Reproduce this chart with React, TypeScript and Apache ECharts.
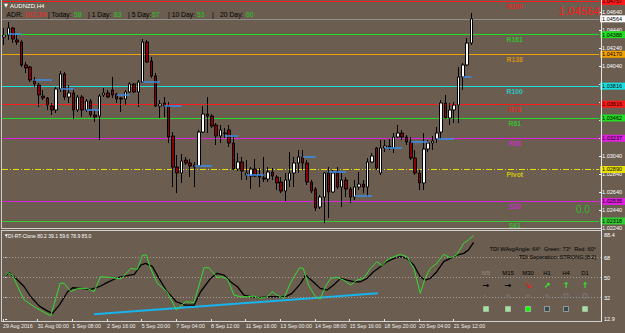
import React, { useEffect, useRef } from "react";
import * as echarts from "echarts";

const BG = "#6b5d4f";
const FONT = '"Liberation Sans", Arial, sans-serif';
const N_SLOTS = 138;

// OHLC as [open, close, low, high]
const CANDLES: number[][] = [
  [1.04362, 1.04384, 1.04273, 1.04462],
  [1.04384, 1.04462, 1.04329, 1.04529],
  [1.04462, 1.0434, 1.04295, 1.04473],
  [1.04329, 1.04306, 1.04273, 1.04384],
  [1.04306, 1.04051, 1.04029, 1.04329],
  [1.04051, 1.04018, 1.03962, 1.04084],
  [1.04029, 1.03884, 1.03862, 1.0404],
  [1.03873, 1.0384, 1.03806, 1.03918],
  [1.03829, 1.03718, 1.03584, 1.03851],
  [1.03706, 1.03684, 1.03662, 1.03773],
  [1.03684, 1.03606, 1.03551, 1.03695],
  [1.03595, 1.03551, 1.03495, 1.03629],
  [1.03551, 1.03784, 1.03518, 1.03806],
  [1.03784, 1.03951, 1.03751, 1.03984],
  [1.03951, 1.03695, 1.03662, 1.03973],
  [1.03695, 1.0374, 1.03629, 1.03829],
  [1.0374, 1.03551, 1.03451, 1.03773],
  [1.03551, 1.03695, 1.03529, 1.03718],
  [1.03695, 1.03551, 1.03473, 1.03718],
  [1.03551, 1.03651, 1.03529, 1.03673],
  [1.03651, 1.03495, 1.03473, 1.03673],
  [1.03495, 1.03473, 1.03418, 1.03551],
  [1.03484, 1.03706, 1.03217, 1.03729],
  [1.03718, 1.0374, 1.03695, 1.03795],
  [1.0374, 1.03695, 1.03684, 1.03773],
  [1.03773, 1.03718, 1.03684, 1.03918],
  [1.03729, 1.03673, 1.03629, 1.0374],
  [1.03684, 1.03673, 1.03529, 1.03695],
  [1.03673, 1.03751, 1.03606, 1.03773],
  [1.03751, 1.0384, 1.0374, 1.03862],
  [1.0384, 1.03751, 1.0374, 1.03851],
  [1.03751, 1.03862, 1.03584, 1.03884],
  [1.03862, 1.04306, 1.03851, 1.0434],
  [1.04306, 1.04084, 1.04073, 1.04329],
  [1.04095, 1.03929, 1.03907, 1.0414],
  [1.03929, 1.03595, 1.03584, 1.03962],
  [1.03595, 1.03618, 1.03462, 1.03662],
  [1.03629, 1.03595, 1.03473, 1.03695],
  [1.03595, 1.03251, 1.03184, 1.0364],
  [1.03262, 1.02917, 1.02695, 1.03306],
  [1.02917, 1.02851, 1.02628, 1.03051],
  [1.02851, 1.02984, 1.0274, 1.03062],
  [1.02995, 1.02962, 1.0294, 1.03029],
  [1.02962, 1.02929, 1.02806, 1.03006],
  [1.0294, 1.02917, 1.02695, 1.02973],
  [1.02929, 1.03306, 1.02917, 1.03329],
  [1.03306, 1.03506, 1.03295, 1.03595],
  [1.03506, 1.03484, 1.03295, 1.03695],
  [1.03484, 1.03373, 1.03351, 1.03506],
  [1.03384, 1.03262, 1.03162, 1.03406],
  [1.03262, 1.03329, 1.03184, 1.03384],
  [1.03295, 1.0329, 1.0324, 1.03351],
  [1.03329, 1.03184, 1.0314, 1.03384],
  [1.03184, 1.02895, 1.02884, 1.03273],
  [1.02895, 1.02973, 1.02873, 1.03073],
  [1.02973, 1.02873, 1.02773, 1.03029],
  [1.02829, 1.02851, 1.02773, 1.02995],
  [1.02817, 1.02895, 1.02673, 1.02917],
  [1.02895, 1.02817, 1.02806, 1.03006],
  [1.02829, 1.02806, 1.02695, 1.02906],
  [1.02795, 1.02784, 1.02751, 1.03029],
  [1.02784, 1.02862, 1.02751, 1.02917],
  [1.02862, 1.02817, 1.02773, 1.02906],
  [1.02806, 1.0274, 1.02662, 1.02829],
  [1.02751, 1.02651, 1.02628, 1.02806],
  [1.02651, 1.02773, 1.0254, 1.02851],
  [1.02773, 1.02851, 1.02695, 1.03084],
  [1.02851, 1.02962, 1.02695, 1.03029],
  [1.02962, 1.03029, 1.02851, 1.03106],
  [1.03029, 1.02962, 1.02884, 1.03106],
  [1.02962, 1.02751, 1.02717, 1.02995],
  [1.02751, 1.02651, 1.02628, 1.02773],
  [1.02673, 1.02462, 1.02429, 1.02695],
  [1.02473, 1.02584, 1.02451, 1.02606],
  [1.02584, 1.02851, 1.02295, 1.02862],
  [1.02851, 1.0264, 1.02351, 1.02917],
  [1.0264, 1.02851, 1.02628, 1.02884],
  [1.02862, 1.02695, 1.02673, 1.02917],
  [1.02695, 1.02773, 1.02473, 1.02851],
  [1.02773, 1.02673, 1.02584, 1.02806],
  [1.02673, 1.02584, 1.02518, 1.02695],
  [1.02584, 1.02695, 1.02551, 1.02773],
  [1.02695, 1.02728, 1.02662, 1.02862],
  [1.02728, 1.02695, 1.02628, 1.02773],
  [1.02695, 1.02973, 1.02584, 1.03017],
  [1.02973, 1.0304, 1.02962, 1.03073],
  [1.03129, 1.02906, 1.02884, 1.0314],
  [1.02851, 1.03129, 1.02829, 1.03217],
  [1.03129, 1.03151, 1.03084, 1.03217],
  [1.03151, 1.03129, 1.03106, 1.03229],
  [1.03129, 1.03251, 1.03073, 1.03295],
  [1.03251, 1.03295, 1.0324, 1.03384],
  [1.03295, 1.03251, 1.03217, 1.03329],
  [1.03251, 1.03195, 1.03162, 1.03273],
  [1.03195, 1.03017, 1.02995, 1.03251],
  [1.03017, 1.02851, 1.02829, 1.03106],
  [1.02851, 1.0274, 1.02662, 1.02884],
  [1.0274, 1.03117, 1.02662, 1.03295],
  [1.03117, 1.03184, 1.03084, 1.03217],
  [1.03184, 1.03206, 1.03106, 1.03262],
  [1.03229, 1.03295, 1.03184, 1.03362],
  [1.03306, 1.03629, 1.03229, 1.03662],
  [1.03629, 1.03462, 1.03462, 1.03718],
  [1.03462, 1.03551, 1.03384, 1.03629],
  [1.03551, 1.03606, 1.03406, 1.0364],
  [1.03606, 1.03918, 1.03406, 1.04029],
  [1.03918, 1.04051, 1.03773, 1.04073],
  [1.04051, 1.04295, 1.0404, 1.04351],
  [1.04295, 1.04564, 1.04273, 1.04629],
];

const CATEGORIES = Array.from({ length: N_SLOTS }, (_, i) => String(i));

const PRICE_TICKS = [1.0224, 1.0244, 1.0264, 1.0284, 1.0304, 1.0324, 1.0344, 1.0364, 1.0384, 1.0404, 1.0424, 1.0444, 1.0464];
// tick labels that the level price boxes leave visible
const PRICE_LABELS = [1.0224, 1.0244, 1.0264, 1.0284, 1.0304, 1.0404, 1.0424, 1.0444, 1.0464];

const LEVEL_NAMES = ["R200", "R161", "R138", "R100", "R78", "R61", "R38", "Pivot", "S38", "S61"];
const LEVEL_VALUES = [1.04757, 1.04388, 1.0417, 1.03816, 1.03616, 1.03462, 1.03237, 1.0289, 1.02535, 1.02318];
const LEVEL_COLORS = ["#ff1a1a", "#22dd22", "#f0a000", "#18e0e0", "#ff1a1a", "#22dd22", "#e020e0", "#e8e000", "#e020e0", "#33cc33"];
const CURRENT_PRICE = 1.04564;
const LABEL_SLOT = 118;

// blue segments: [from slot, to slot, price]
const SEGMENTS = [
  [1, 4, 1.04395], [7, 11, 1.03884], [13, 16, 1.03784], [19, 22, 1.03551], [26, 29, 1.03718],
  [32, 36, 1.03862], [37, 41, 1.03595], [44, 48, 1.02929], [51, 54, 1.03262], [56, 60, 1.02829],
  [69, 72, 1.03029], [75, 79, 1.02862], [81, 85, 1.02595], [88, 92, 1.03129], [94, 98, 1.03195],
  [100, 104, 1.03229], [106, 108, 1.03918],
];

const TIME_LABELS = ["29 Aug 2016", "31 Aug 00:00", "1 Sep 08:00", "2 Sep 16:00", "5 Sep 20:00", "7 Sep 04:00", "8 Sep 12:00", "11 Sep 16:00", "13 Sep 00:00", "14 Sep 08:00", "15 Sep 16:00", "18 Sep 20:00", "20 Sep 04:00", "21 Sep 12:00"];
const TIME_TICKS = TIME_LABELS.map((_, k) => k * 8 - 0.5);

const TDI_TICKS = [12.9, 32, 50, 68, 88.4];
const TDI_LEVELS = [32, 50, 68];

const GREEN_LINE = [
  [0, 51.8], [0.6, 54.5], [1.7, 52.4], [2.9, 41.9], [4.4, 30], [6.7, 24], [9, 18.8], [10.5, 15.8], [12.7, 45], [13.6, 45],
  [15.2, 37.4], [16.7, 40.4], [19, 40.4], [20.5, 37.4], [22, 50.9], [24.3, 50.3], [26.7, 48.8], [29, 58.4], [30.5, 57.5],
  [31.7, 70.4], [32.6, 70.4], [33.4, 59.9], [35.1, 45], [37.4, 37.4], [39.5, 21], [41.6, 28.4], [43.6, 27.8], [45.9, 59],
  [47, 59], [49, 50], [50, 50.9], [51.3, 48.8], [52.8, 34.4], [54.3, 32.9], [55.9, 32.9], [57.4, 33.5], [58.9, 31.4],
  [60.5, 32.9], [61.6, 37.4], [62.8, 34.4], [64.3, 31.4], [65.8, 44.9], [67.9, 59], [68.8, 58.4], [70, 43.4], [71.6, 32.9],
  [72.7, 30.8], [73.9, 41.9], [75.1, 49.4], [76.6, 50.3], [78.1, 47.9], [79.7, 43.4], [81.2, 47.9], [82.7, 49.4], [84.3, 58.4],
  [85.8, 64.4], [87, 60.8], [88.1, 65.9], [89.7, 68.9], [91.2, 71], [92.7, 68.9], [94.3, 58.4], [95.8, 35.9], [96.9, 49.4],
  [98.1, 58.4], [99.6, 62.9], [101.2, 71], [102.7, 68], [104.2, 70.4], [105.8, 80.9], [106.9, 83.9], [108.1, 87.8],
];

const BLACK_LINE = [
  [0, 51.8], [0.9, 54.5], [2.5, 49.4], [4.4, 41.9], [5.9, 32.9], [7.9, 24.5], [9.8, 20], [10.9, 17.9], [12.5, 25.4], [14.4, 37.4],
  [15.6, 41], [17.5, 40.4], [19.8, 39.5], [21.7, 41.9], [23.6, 45.8], [25.9, 50], [28.2, 51.8], [29.8, 53], [31.3, 61.4],
  [32.4, 62.9], [34, 59.9], [35.5, 49.4], [37.4, 37.4], [39.5, 28.4], [41.6, 25.4], [43.6, 25.4], [45.1, 37.4], [47.4, 49.4],
  [48.9, 53.9], [50.5, 52.4], [52, 46.4], [53.6, 41.9], [55.1, 34.4], [56.6, 32.9], [58.9, 32], [60.5, 32.9], [62.8, 32.9],
  [64.7, 32.9], [66.2, 35.9], [68.2, 44.9], [69.3, 52.4], [71.2, 46], [72.7, 40.4], [74.3, 38.9], [75.8, 43.4], [77.4, 49.4],
  [78.9, 47.9], [80.4, 46.4], [82, 46.4], [83.5, 49.4], [85, 55.4], [86.6, 59.9], [88.1, 64.4], [89.7, 67.4], [91.2, 68.9],
  [92.7, 67.4], [94.3, 61.4], [95.8, 50.9], [96.9, 47.9], [98.1, 49.4], [99.6, 55.4], [101.2, 64.4], [102.7, 67.4],
  [104.2, 70.4], [105.8, 71.9], [106.9, 74.9], [108.1, 81.8],
];

const TREND_LINE = [[20.5, 17.1], [86, 36]];

const ADR_PARTS = [
  ["ADR:", "#000000"], ["102.3%", "#ff2020"], ["| Today:", "#000000"], ["58", "#22cc22"],
  ["| 1 Day:", "#000000"], ["83", "#22cc22"], ["| 5 Day:", "#000000"], ["57", "#22cc22"],
  ["| 10 Day:", "#000000"], ["53", "#22cc22"], ["|", "#000000"], ["20 Day:", "#000000"], ["60", "#22cc22"],
];
const ADR_X = [6.5, 24, 48, 74, 88, 114, 128, 152, 168, 197, 212, 220, 246];

const TF_NAMES = ["M5", "M15", "M30", "H1", "H4", "D1"];
const TF_X = [486, 508, 528, 547, 566, 585];
const TF_NAME_COLORS = ["#9a9080", "#000000", "#000000", "#000000", "#000000", "#000000"];
const TF_ARROWS = ["→", "→", "↘", "↗", "↑", "↑"];
const TF_ARROW_COLORS = ["#000000", "#000000", "#ff1010", "#33ee33", "#33ee33", "#33ee33"];
const TF_DOTS = ["small", "fill", "fill", "fill", "ring", "ring"];
const TF_SQUARES = ["#98e898", "#98e898", "#00ff00", "#2f4f4f", "#2f4f4f", "#98e898"];

function txt(text: string, x: number, y: number, size: number, fill: string, align = "left", weight = "normal", family = FONT) {
  return {
    type: "text",
    x,
    y,
    silent: true,
    z: 50,
    style: { text, fill, fontSize: size, fontFamily: family, fontWeight: weight, align, verticalAlign: "middle" },
  };
}
function ln(x1: number, y1: number, x2: number, y2: number, stroke: string) {
  return { type: "line", silent: true, z: 40, shape: { x1, y1, x2, y2 }, style: { stroke, lineWidth: 1 } };
}

function priceBox(value: number, bg: string) {
  return {
    show: true,
    position: "end",
    distance: 1,
    formatter: value.toFixed(5),
    backgroundColor: bg,
    color: "#000000",
    fontSize: 5.5,
    fontFamily: FONT,
    padding: [1, 3, 0, 2],
  };
}

export default function App() {
  const ref = useRef<HTMLDivElement>(null);
  useEffect(() => {
    const chart = echarts.init(ref.current!, null, { renderer: "svg" });

    const levelLines: any[] = LEVEL_VALUES.map((v, i) => ({
      yAxis: v,
      lineStyle: {
        color: LEVEL_COLORS[i],
        width: 1,
        type: LEVEL_NAMES[i] === "Pivot" ? [6, 2, 1, 2] : "solid",
      },
      label: priceBox(v, LEVEL_COLORS[i]),
    }));
    levelLines.push({
      yAxis: CURRENT_PRICE,
      lineStyle: { color: "#8e8e8e", width: 1, type: "solid" },
      label: priceBox(CURRENT_PRICE, "#ffffff"),
    });
    const segLines = SEGMENTS.map((s) => [
      { coord: [s[0], s[2]], lineStyle: { color: "#3a8ee8", width: 1.5, type: "solid" }, label: { show: false } },
      { coord: [s[1], s[2]] },
    ]);

    const graphic: any[] = [
      ln(1.5, 0, 1.5, 228.5, "#cfcfcf"),
      ln(1, 228.5, 601.5, 228.5, "#cfcfcf"),
      ln(1, 230.5, 601.5, 230.5, "#cfcfcf"),
      ln(1.5, 230, 1.5, 321.5, "#cfcfcf"),
      ln(1, 321.5, 601.5, 321.5, "#cfcfcf"),
      ln(601.5, 0, 601.5, 321.5, "#e8e8e8"),
      txt("▼", 4, 5, 5, "#ffffff", "left", "normal", '"DejaVu Sans", sans-serif'),
      txt("AUDNZD,H4", 10, 5.5, 6, "#ffffff"),
      txt(CURRENT_PRICE.toFixed(5), 600, 10.5, 11.5, "#ff1a1a", "right"),
      txt("0.0", 576, 209.5, 10, "#33bb33"),
      txt("TDI-RT-Clone 80.2 39.1 59.6 78.9 85.0", 5, 236, 5, "#ffffff"),
      txt("TDI WAvgAngle: 64°  Green: 73°  Red: 60°", 596, 249, 5.6, "#000000", "right"),
      txt("TDI Seperation: STRONG [8.2]", 596, 257, 5.6, "#000000", "right"),
    ];
    ADR_PARTS.forEach((p, i) => graphic.push(txt(p[0], ADR_X[i], 14, 6.8, p[1])));
    TF_NAMES.forEach((n, i) => {
      graphic.push(txt(n, TF_X[i], 272.7, 6, TF_NAME_COLORS[i], "center"));
      graphic.push(txt(TF_ARROWS[i], TF_X[i], 285, 8, TF_ARROW_COLORS[i], "center", "bold", '"DejaVu Sans", sans-serif'));
      if (TF_DOTS[i] === "small") {
        graphic.push({ type: "circle", silent: true, z: 50, shape: { cx: TF_X[i] - 1, cy: 296, r: 0.8 }, style: { fill: "#7a7a7a" } });
      } else if (TF_DOTS[i] === "fill") {
        graphic.push({ type: "circle", silent: true, z: 50, shape: { cx: TF_X[i], cy: 296, r: 2 }, style: { fill: "#6f6f6f" } });
      } else {
        graphic.push({ type: "circle", silent: true, z: 50, shape: { cx: TF_X[i], cy: 296, r: 2.2 }, style: { fill: "none", stroke: "#777777", lineWidth: 1.2 } });
      }
      graphic.push({
        type: "rect",
        silent: true,
        z: 50,
        shape: { x: TF_X[i] - 2.5, y: 306.5, width: 5, height: 5 },
        style: { fill: TF_SQUARES[i], stroke: "#c8c8c8", lineWidth: 0.6 },
      });
    });

    const option: any = {
      animation: false,
      backgroundColor: BG,
      textStyle: { fontFamily: FONT },
      grid: [
        { left: 2, top: 1, width: 599, height: 227 },
        { left: 2, top: 235, width: 599, height: 84 },
      ],
      xAxis: [
        {
          type: "category",
          gridIndex: 0,
          data: CATEGORIES,
          show: false,
          boundaryGap: true,
        },
        {
          type: "value",
          gridIndex: 1,
          min: -0.5,
          max: N_SLOTS - 0.5,
          position: "bottom",
          axisLine: { show: false },
          splitLine: { show: false },
          axisTick: { show: true, customValues: TIME_TICKS, length: 3, lineStyle: { color: "#e8e8e8" } },
          axisLabel: {
            show: true,
            customValues: TIME_TICKS,
            formatter: (v: number) => TIME_LABELS[Math.round((v + 0.5) / 8)] ?? "",
            color: "#f0f0f0",
            fontSize: 5.3,
            fontFamily: FONT,
            align: "left",
            margin: 4,
          },
        },
      ],
      yAxis: [
        {
          type: "value",
          gridIndex: 0,
          position: "right",
          min: 1.0224,
          max: 1.04762,
          axisLine: { show: false },
          splitLine: { show: false },
          axisTick: { show: true, customValues: PRICE_TICKS, length: 2, lineStyle: { color: "#ffffff" } },
          axisLabel: {
            show: true,
            customValues: PRICE_LABELS,
            formatter: (v: number) => v.toFixed(5),
            color: "#ffffff",
            fontSize: 5.5,
            fontFamily: FONT,
            margin: 3,
          },
        },
        {
          type: "value",
          gridIndex: 1,
          position: "right",
          min: 12.9,
          max: 88.4,
          axisLine: { show: false },
          splitLine: { show: false },
          axisTick: { show: true, customValues: TDI_TICKS, length: 2, lineStyle: { color: "#ffffff" } },
          axisLabel: {
            show: true,
            customValues: TDI_TICKS,
            formatter: (v: number) => String(v),
            color: "#ffffff",
            fontSize: 5.5,
            fontFamily: FONT,
            margin: 3,
          },
        },
      ],
      series: [
        {
          type: "scatter",
          xAxisIndex: 0,
          yAxisIndex: 0,
          symbolSize: 1,
          itemStyle: { color: "rgba(0,0,0,0)" },
          silent: true,
          z: 2,
          data: LEVEL_VALUES.map((v, i) => ({
            value: [LABEL_SLOT, v],
            label: { color: LEVEL_COLORS[i], formatter: LEVEL_NAMES[i] },
          })),
          label: { show: true, position: "bottom", distance: 1, fontSize: 6.8, fontWeight: "bold", fontFamily: FONT },
          markLine: {
            silent: true,
            symbol: "none",
            precision: 5,
            z: 2,
            data: levelLines,
          },
        },
        {
          type: "candlestick",
          xAxisIndex: 0,
          yAxisIndex: 0,
          data: CANDLES,
          barWidth: 3,
          z: 3,
          itemStyle: {
            color: "#ffffff",
            color0: "#8b0000",
            borderColor: "#000000",
            borderColor0: "#000000",
            borderWidth: 1,
          },
          markLine: {
            silent: true,
            symbol: "none",
            precision: 5,
            z: 5,
            data: segLines,
          },
        },
        {
          type: "line",
          xAxisIndex: 1,
          yAxisIndex: 1,
          data: TREND_LINE,
          showSymbol: false,
          silent: true,
          lineStyle: { color: "#18b4ee", width: 2 },
          z: 3,
        },
        {
          type: "line",
          xAxisIndex: 1,
          yAxisIndex: 1,
          data: BLACK_LINE,
          showSymbol: false,
          silent: true,
          lineStyle: { color: "#000000", width: 1.3 },
          z: 4,
          markLine: {
            silent: true,
            symbol: "none",
            label: { show: false },
            lineStyle: { color: "#a59d92", width: 1, type: [1, 2] },
            data: TDI_LEVELS.map((v) => ({ yAxis: v })),
          },
        },
        {
          type: "line",
          xAxisIndex: 1,
          yAxisIndex: 1,
          data: GREEN_LINE,
          showSymbol: false,
          silent: true,
          lineStyle: { color: "#33dd33", width: 1 },
          z: 5,
        },
      ],
      graphic,
    };

    chart.setOption(option);
    return () => chart.dispose();
  }, []);

  return (
    <div
      ref={ref}
      style={{ position: "absolute", left: 0, top: 0, width: 625, height: 333, background: BG }}
    />
  );
}
